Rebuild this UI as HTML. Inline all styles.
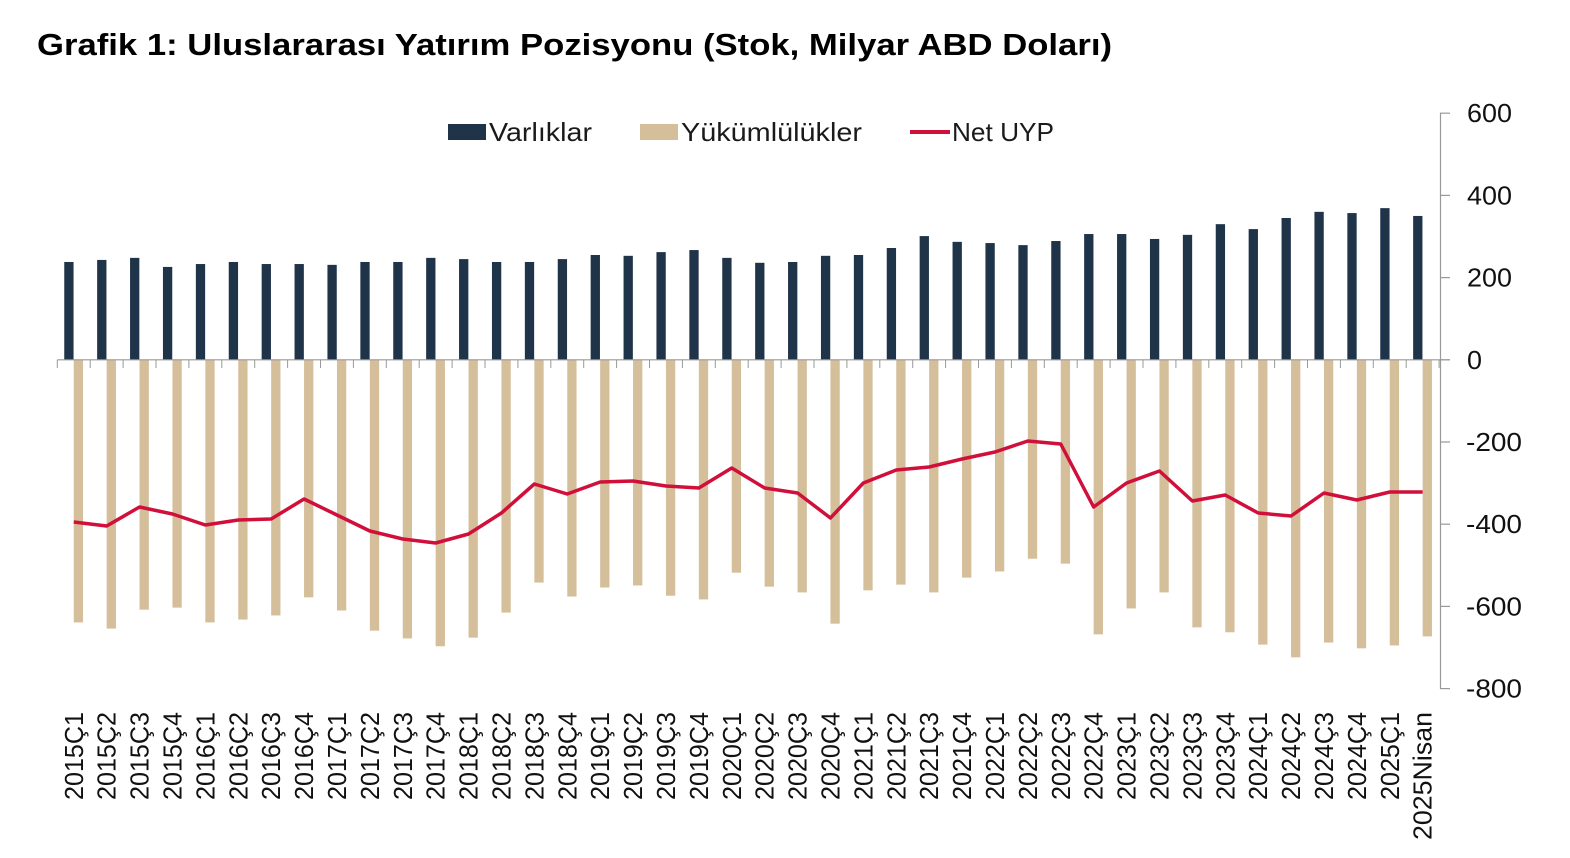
<!DOCTYPE html>
<html><head><meta charset="utf-8"><style>
html,body{margin:0;padding:0;background:#fff;}
svg{display:block;font-family:"Liberation Sans",sans-serif;}
</style></head><body>
<svg id="c" width="1570" height="858" xmlns="http://www.w3.org/2000/svg">
<text x="37" y="55" font-size="31" font-weight="bold" fill="#000" textLength="1075" lengthAdjust="spacingAndGlyphs">Grafik 1: Uluslararası Yatırım Pozisyonu (Stok, Milyar ABD Doları)</text>
<rect x="448" y="124" width="38" height="16" fill="#1f3349"/>
<text x="489" y="141" font-size="26" fill="#1a1a1a" textLength="103" lengthAdjust="spacingAndGlyphs">Varlıklar</text>
<rect x="640" y="124" width="38" height="16" fill="#d5bf9b"/>
<text x="681" y="141" font-size="26" fill="#1a1a1a" textLength="181" lengthAdjust="spacingAndGlyphs">Yükümlülükler</text>
<line x1="910" y1="132" x2="950" y2="132" stroke="#d0103a" stroke-width="4"/>
<text x="952" y="141" font-size="26" fill="#1a1a1a" textLength="102" lengthAdjust="spacingAndGlyphs">Net UYP</text>
<g id="g"></g>
</svg>
<script>
var A=[238,243,248,226,233,238,233,233,231,238,238,248,245,238,238,245,255,253,262,267,248,236,238,253,255,272,301,287,284,279,289,306,306,294,304,330,318,345,360,357,369,350];
var L=[-639,-654,-608,-603,-639,-632,-622,-578,-610,-659,-678,-697,-676,-615,-542,-576,-554,-549,-574,-583,-518,-552,-566,-642,-561,-547,-566,-530,-515,-484,-496,-668,-605,-566,-651,-663,-693,-724,-688,-702,-695,-673];
var N=[522,526,507,514,525,520,519,499,515,531,539,543,534,513,484,494,482,481,486,488,468,488,493,518,483,470,467,459,452,441,444,507,483,471,501,495,513,516,493,500,492,492];
var labs=[];for(var y=2015;y<=2025;y++)for(var q=1;q<=4;q++){if(y==2025&&q>1)break;labs.push(y+"Ç"+q);}labs.push("2025Nisan");
var y0=359.8,k=82.2/200,x0=57.3,w=32.9,s="";
for(var i=0;i<42;i++){var c=x0+w*(i+0.5);
s+='<rect x="'+(c-9.5)+'" y="'+(y0-A[i]*k)+'" width="9.3" height="'+(A[i]*k)+'" fill="#1f3349"/>';
s+='<rect x="'+c+'" y="'+y0+'" width="9.3" height="'+(-L[i]*k)+'" fill="#d5bf9b"/>';
var tl=(i==41)?128:88;
s+='<text transform="translate('+(c+9)+',712) rotate(-90)" text-anchor="end" font-size="25.5" fill="#111" textLength="'+tl+'" lengthAdjust="spacingAndGlyphs">'+labs[i]+'</text>';}
for(var i=0;i<=42;i++){var x=x0+w*i;s+='<line x1="'+x+'" y1="'+y0+'" x2="'+x+'" y2="368" stroke="#999" stroke-width="1"/>';}
s+='<line x1="'+x0+'" y1="'+y0+'" x2="1450" y2="'+y0+'" stroke="#999" stroke-width="1.2"/>';
s+='<line x1="1440.5" y1="113" x2="1440.5" y2="689" stroke="#999" stroke-width="1.2"/>';
for(var v=600;v>=-800;v-=200){var yy=y0-v*k;s+='<line x1="1440" y1="'+yy+'" x2="1450" y2="'+yy+'" stroke="#999" stroke-width="1.2"/>';
var lx=v<0?1466:(v==0?1467:1467);var tl=v<0?56:(v==0?15:45);
s+='<text x="'+lx+'" y="'+(yy+9)+'" font-size="26" fill="#111" textLength="'+tl+'" lengthAdjust="spacingAndGlyphs">'+v+'</text>';}
var p="";for(var i=0;i<42;i++){p+=(x0+w*(i+0.5))+","+N[i]+" ";}
s+='<polyline points="'+p+'" fill="none" stroke="#d0103a" stroke-width="3.5" stroke-linejoin="round"/>';
document.getElementById("g").innerHTML=s;
</script>
</body></html>
